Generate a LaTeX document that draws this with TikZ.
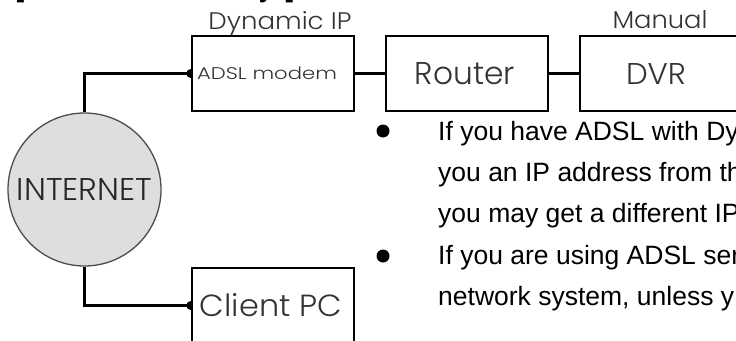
\documentclass[tikz,border=0pt]{standalone}
\usepackage{fontspec}
\setmainfont{Liberation Sans}
\newfontfamily\geo{Poppins Light}
\usepackage{graphicx}
\begin{document}
\begin{tikzpicture}[x=1pt,y=-1pt,
  devbox/.style={draw=black,line width=2.4pt,fill=white,minimum width=162pt,minimum height=75pt,inner sep=0pt,font=\geo,text=black!80},
  conn/.style={draw=black,line width=2.4pt},
  toplabel/.style={anchor=base,inner sep=0pt,font=\geo,text=black!80},
  bodytext/.style={anchor=base west,inner sep=0pt,font=\fontsize{26.5}{40}\selectfont,text=black},
  frag/.style={anchor=base,inner sep=0pt,font=\fontsize{26}{30}\selectfont\bfseries}]
\useasboundingbox (0,0) rectangle (736,340);
\clip (0,0) rectangle (736,340);
% heading fragments (cut off at top edge)
\node[frag] (f1) at (20,-2.5) {[};
\node[frag] (f2) at (266,-2.5) {y};
\node[frag] (f3) at (290,-2.5) {]};
% internet cloud
\node[circle,draw=black!70,line width=1.3pt,fill=black!13,minimum size=153pt,inner sep=0pt,font=\geo,text=black!85] (inet) at (84.5,189.5) {\resizebox{135pt}{22pt}{INTERNET}};
% devices
\node[devbox] (adsl) at (273,73.5) {\hspace*{-12pt}\resizebox{140pt}{12.5pt}{ADSL modem}};
\node[devbox] (router) at (467,73.5) {\hspace*{-4pt}\resizebox{100pt}{22pt}{Router}};
\node[devbox] (dvr) at (661,73.5) {\hspace*{-10pt}\resizebox{60pt}{21pt}{DVR}};
\node[devbox] (pc) at (273,305.5) {\hspace*{-4pt}\resizebox{142pt}{23pt}{Client PC}};
\node[toplabel] (dyn) at (280,29) {\resizebox{143pt}{18pt}{Dynamic IP}};
\node[toplabel] (man) at (660,28) {\resizebox{95pt}{18pt}{Manual}};
% connectors
\draw[conn] (inet.north) |- (adsl.west);
\draw[conn] (inet.south) |- (pc.west);
\draw[conn] (adsl.east) -- (router.west);
\draw[conn] (router.east) -- (dvr.west);
\fill[black] (adsl.west) ++(0,-4.5) arc[start angle=270,end angle=90,radius=4.5] -- cycle;
\fill[black] (pc.west) ++(0,-4.5) arc[start angle=270,end angle=90,radius=4.5] -- cycle;
% bullet text
\fill[black] (383,131) circle[radius=6.5];
\fill[black] (383,256) circle[radius=6.5];
\node[bodytext] (l1) at (438,140) {If you have ADSL with Dy};
\node[bodytext] (l2) at (438,181) {you an IP address from th};
\node[bodytext] (l3) at (438,222) {you may get a different IP};
\node[bodytext] (l4) at (438,264) {If you are using ADSL ser};
\node[bodytext] (l5) at (438,305) {network system, unless y};
\end{tikzpicture}
\end{document}
